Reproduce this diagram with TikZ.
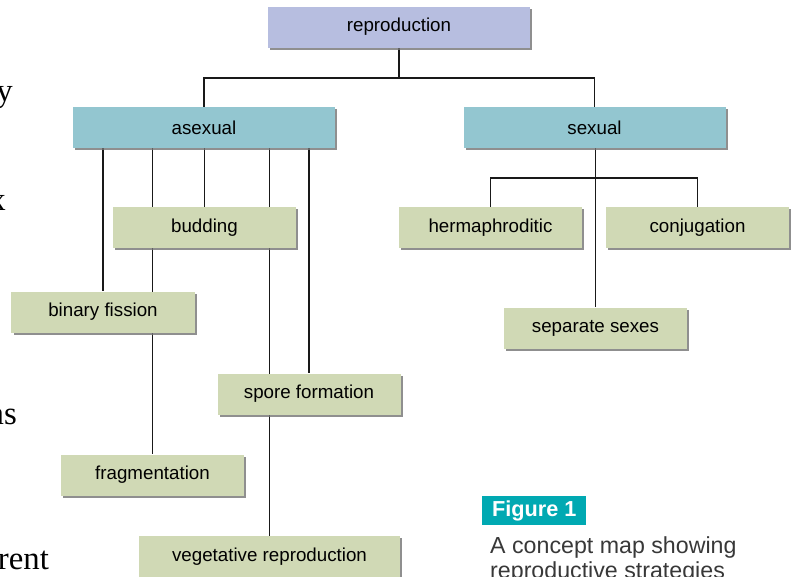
\documentclass[tikz,border=0pt]{standalone}
\usepackage{fontspec}
\setmainfont{Liberation Sans}
\newfontfamily\pageserif{Liberation Serif}
\usetikzlibrary{positioning,shadows,backgrounds}

\definecolor{topblue}{HTML}{B7BEE0}
\definecolor{branchteal}{HTML}{93C6D0}
\definecolor{leafgreen}{HTML}{D0D9B5}
\definecolor{figteal}{HTML}{00A9B2}

\begin{document}
\begin{tikzpicture}[
    x=0.03cm, y=-0.03cm,
    box/.style={rectangle, minimum height=1.23cm, inner sep=0pt, text centered, font=\fontsize{16}{18}\selectfont, drop shadow={shadow xshift=1.8pt, shadow yshift=-1.8pt, fill=black!55, opacity=0.8}},
    topbox/.style={box, minimum width=7.86cm, fill=topblue},
    branchbox/.style={box, minimum width=7.86cm, fill=branchteal},
    leafbox/.style={box, minimum width=5.49cm, fill=leafgreen},
    pagetext/.style={anchor=base east, font=\pageserif\fontsize{28}{30}\selectfont},
    link/.style={line width=1.5pt, black!90}
]
\useasboundingbox (0,0) rectangle (797,576);

% Root
\node[topbox] (repro) at (399,27) {reproduction};
\coordinate (split) at (399,78);

% Asexual branch
\node[branchbox] (asexual) at (204,127.5) {asexual};
\node[leafbox] (budding) at (204.5,227.5) {budding};
\node[leafbox] (binary) at (103,312) {binary fission};
\node[leafbox] (spore) at (309,394) {spore formation};
\node[leafbox] (frag) at (152.5,475) {fragmentation};
\node[box, minimum width=7.83cm, fill=leafgreen] (veg) at (269.5,556.5) {vegetative reproduction};

% Sexual branch
\node[branchbox] (sexual) at (594.5,127.5) {sexual};
\coordinate (sexsplit) at (595,178);
\node[leafbox] (herma) at (490.5,227.5) {hermaphroditic};
\node[leafbox] (conj) at (697.5,227.5) {conjugation};
\node[leafbox] (separate) at (595.5,328) {separate sexes};

% Links
\begin{pgfonlayer}{background}
\draw[link] (repro) -- (split) -| (asexual);
\draw[link] (split) -| (sexual);
\draw[link] (asexual.south -| binary) -- (binary);
\draw[link] (asexual.south -| frag) -- (frag);
\draw[link] (asexual.south -| budding) -- (budding);
\draw[link] (asexual.south -| veg) -- (veg);
\draw[link] (asexual.south -| spore) -- (spore);
\draw[link] (sexual.south -| separate) -- (separate);
\draw[link] (herma) |- (sexsplit) -| (conj);
\end{pgfonlayer}

% Caption
\node[anchor=north west, fill=figteal, text=white, inner sep=0pt, minimum width=3.12cm, minimum height=0.87cm, font=\bfseries\fontsize{18.5}{20}\selectfont] (figlabel) at (482,496) {Figure 1};
\node[anchor=north west, inner sep=0pt, align=left, text=black!78, font=\fontsize{19.8}{21.3}\selectfont] (caption) at (490,536) {A concept map showing\\reproductive strategies};

% Page text at the left edge
\node[pagetext] (texty) at (17,101) {y};
\node[pagetext] (textx) at (10,210) {x};
\node[pagetext] (textns) at (21,424) {ns};
\node[pagetext] (textrent) at (53,569) {rent};
\end{tikzpicture}
\end{document}
